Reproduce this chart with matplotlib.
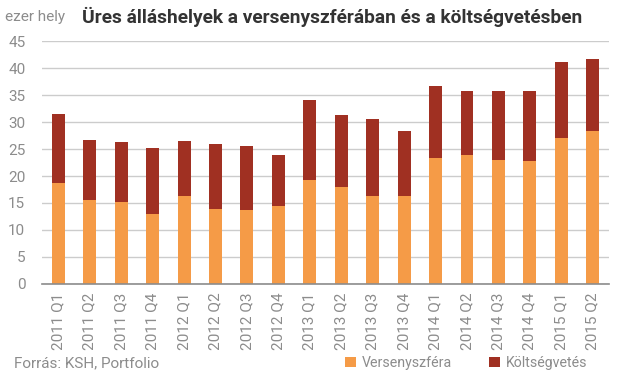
import matplotlib
matplotlib.use("Agg")
import matplotlib.pyplot as plt
import numpy as np

# adatok (ezer hely)
negyedevek = ["2011 Q1", "2011 Q2", "2011 Q3", "2011 Q4",
              "2012 Q1", "2012 Q2", "2012 Q3", "2012 Q4",
              "2013 Q1", "2013 Q2", "2013 Q3", "2013 Q4",
              "2014 Q1", "2014 Q2", "2014 Q3", "2014 Q4",
              "2015 Q1", "2015 Q2"]
versenyszfera = [18.7, 15.6, 15.2, 13.0, 16.3, 13.9, 13.7, 14.4,
                 19.3, 18.0, 16.3, 16.3, 23.3, 23.9, 23.0, 22.8, 27.0, 28.3]
osszesen = [31.5, 26.7, 26.3, 25.2, 26.5, 25.9, 25.6, 23.9,
            34.1, 31.3, 30.6, 28.3, 36.7, 35.7, 35.7, 35.7, 41.1, 41.7]
koltsegvetes = [o - v for o, v in zip(osszesen, versenyszfera)]

narancs = "#F59B47"
bordo = "#A03022"
szurke = "#8C8C8C"

plt.rcParams['font.family'] = ['Roboto', 'DejaVu Sans']

fig = plt.figure(figsize=(6.24, 3.78), dpi=100)
ax = fig.add_axes([0.0673, 0.2487, 0.976 - 0.0673, 0.8915 - 0.2487])

x = np.arange(len(negyedevek))
ax.bar(x, versenyszfera, width=0.41, color=narancs, zorder=3, label="Versenyszféra")
ax.bar(x, koltsegvetes, width=0.41, bottom=versenyszfera, color=bordo, zorder=3, label="Költségvetés")

ax.set_ylim(0, 45)
ax.set_xlim(-0.52, len(negyedevek) - 0.48)
ax.set_yticks(np.arange(0, 46, 5))
ax.set_xticks(x)
ax.set_xticklabels(negyedevek, rotation=90, fontsize=11, color=szurke)
ax.tick_params(axis='y', labelsize=11, colors=szurke, length=0, pad=12)
ax.tick_params(axis='x', length=0, pad=6)
ax.grid(axis='y', color="#CCCCCC", linewidth=1, zorder=0)
for s in ["top", "right", "left"]:
    ax.spines[s].set_visible(False)
ax.spines["bottom"].set_color("#8C8C8C")
ax.spines["bottom"].set_linewidth(1.2)
ax.spines["bottom"].set_zorder(4)

fig.text(0.008, 0.955, "ezer hely", fontsize=11, color=szurke, va='center')
fig.text(0.131, 0.955, "Üres álláshelyek a versenyszférában és a költségvetésben",
         fontsize=13.8, fontweight='bold', color="#333333", va='center')
fig.text(0.022, 0.04, "Forrás: KSH, Portfolio", fontsize=11, color=szurke, va='center')

fig.legend(loc='center left', bbox_to_anchor=(0.553, 0.04), ncol=2, frameon=False,
           fontsize=10.2, labelcolor=szurke, handlelength=0.75, handleheight=0.75,
           handletextpad=0.45, columnspacing=2.6, borderpad=0, borderaxespad=0)

fig.savefig("out.png", dpi=100)
